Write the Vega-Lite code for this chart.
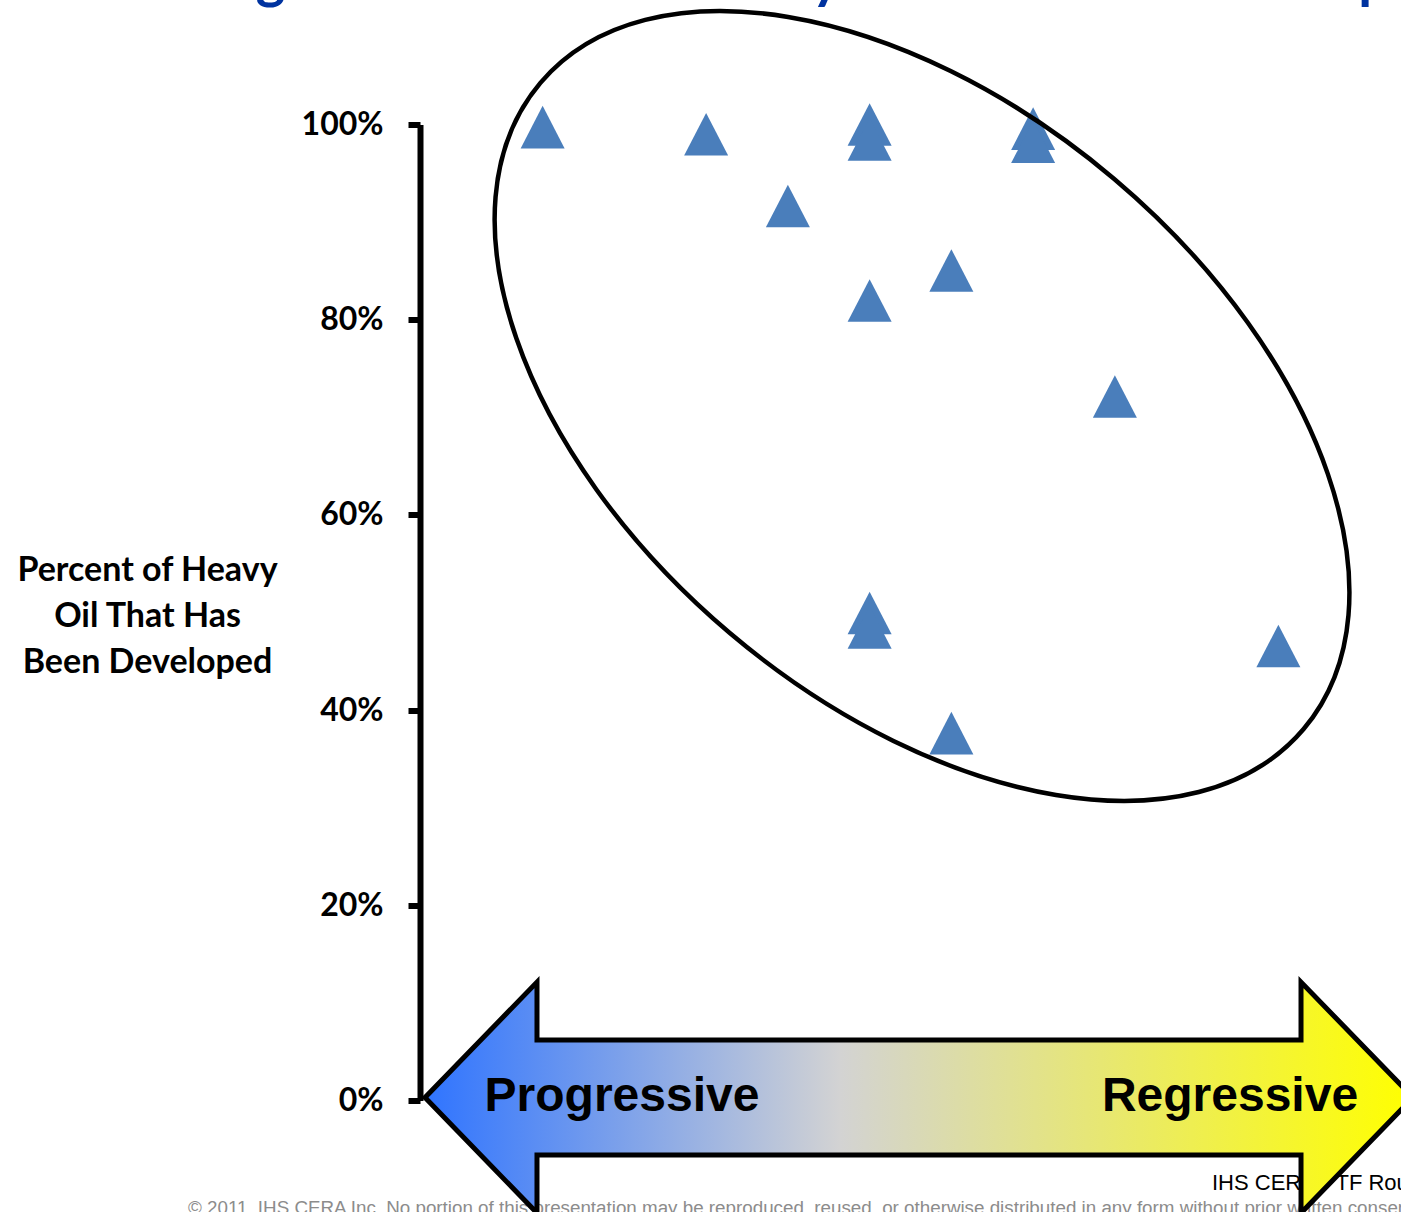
{
  "$schema": "https://vega.github.io/schema/vega-lite/v6.json",
  "width": 981,
  "height": 976,
  "autosize": "none",
  "padding": {"left": 420, "top": 124.5, "right": 0, "bottom": 111.5},
  "background": "white",
  "config": {"view": {"stroke": null}},
  "datasets": {
    "fields": [
      {"regime_position": 1, "share_developed": 0.9974},
      {"regime_position": 3, "share_developed": 0.990},
      {"regime_position": 4, "share_developed": 0.9165},
      {"regime_position": 5, "share_developed": 1.0},
      {"regime_position": 5, "share_developed": 0.9846},
      {"regime_position": 5, "share_developed": 0.8197},
      {"regime_position": 5, "share_developed": 0.4995},
      {"regime_position": 5, "share_developed": 0.4846},
      {"regime_position": 6, "share_developed": 0.8504},
      {"regime_position": 6, "share_developed": 0.3765},
      {"regime_position": 7, "share_developed": 0.9957},
      {"regime_position": 7, "share_developed": 0.9823},
      {"regime_position": 8, "share_developed": 0.7213},
      {"regime_position": 10, "share_developed": 0.4657}
    ]
  },
  "resolve": {"axis": {"x": "independent", "y": "independent"}},
  "layer": [
    {
      "data": {"name": "fields"},
      "mark": {"type": "point", "shape": "M0,-0.97L1,0.97L-1,0.97Z", "size": 1936, "filled": true, "color": "#4a7ebb", "opacity": 1},
      "encoding": {
        "x": {"field": "regime_position", "type": "quantitative", "scale": {"domain": [-0.5, 11.5]}, "axis": null},
        "y": {
          "field": "share_developed",
          "type": "quantitative",
          "scale": {"domain": [0, 1], "nice": false},
          "axis": {
            "title": ["Percent of Heavy", "Oil That Has", "Been Developed"],
            "titleFont": "Lato",
            "titleFontWeight": "bold",
            "titleFontSize": 34,
            "titleColor": "black",
            "titleAngle": 0,
            "titleAlign": "center",
            "titleBaseline": "alphabetic",
            "titleX": -273,
            "titleY": 455.5,
            "titleLineHeight": 46,
            "values": [0, 0.2, 0.4, 0.6, 0.8, 1],
            "format": ".0%",
            "grid": false,
            "domainColor": "black",
            "domainWidth": 6,
            "tickColor": "black",
            "tickWidth": 6,
            "tickSize": 12,
            "labelFont": "Lato",
            "labelFontWeight": "bold",
            "labelFontSize": 32,
            "labelColor": "black",
            "labelPadding": 25
          }
        }
      }
    },
    {
      "data": {"values": [{}]},
      "mark": {"type": "text", "text": "Fiscal Regimes Matter for Heavy Oil Resource Development", "font": "Lato", "fontWeight": "bold", "fontSize": 56, "color": "#0033a0", "align": "left", "baseline": "alphabetic"},
      "encoding": {
        "x": {"datum": -5.17, "type": "quantitative", "scale": {"domain": [-0.5, 11.5]}, "axis": null},
        "y": {"datum": 1.1296, "type": "quantitative", "scale": {"domain": [0, 1], "nice": false}, "axis": null}
      }
    },
    {
      "data": {"values": [{}]},
      "mark": {"type": "text", "text": "IHS CERA PTF Roundtable", "font": "Liberation Sans Narrow, Arial Narrow, Liberation Sans, sans-serif", "fontSize": 22, "color": "black", "align": "left", "baseline": "alphabetic"},
      "encoding": {
        "x": {"datum": 9.188, "type": "quantitative", "scale": {"domain": [-0.5, 11.5]}, "axis": null},
        "y": {"datum": -0.0917, "type": "quantitative", "scale": {"domain": [0, 1], "nice": false}, "axis": null}
      }
    },
    {
      "data": {"values": [{}]},
      "mark": {"type": "text", "text": "© 2011, IHS CERA Inc. No portion of this presentation may be reproduced, reused, or otherwise distributed in any form without prior written consent.", "font": "Liberation Sans Narrow, Arial Narrow, Liberation Sans, sans-serif", "fontSize": 18.8, "color": "#8c8c8c", "align": "left", "baseline": "alphabetic"},
      "encoding": {
        "x": {"datum": -3.338, "type": "quantitative", "scale": {"domain": [-0.5, 11.5]}, "axis": null},
        "y": {"datum": -0.1163, "type": "quantitative", "scale": {"domain": [0, 1], "nice": false}, "axis": null}
      }
    },
    {
      "data": {"values": [{}]},
      "mark": {
        "type": "point",
        "shape": "M-1,0L-0.7733,-0.2338L-0.7733,-0.1164L0.7733,-0.1164L0.7733,-0.2338L1,0L0.7733,0.2338L0.7733,0.1164L-0.7733,0.1164L-0.7733,0.2338Z",
        "size": 976144,
        "filled": true,
        "opacity": 1,
        "fill": {"gradient": "linear", "x1": 0, "y1": 0, "x2": 1, "y2": 0, "stops": [
          {"offset": 0, "color": "#2f74ff"},
          {"offset": 0.42, "color": "#d3d3d3"},
          {"offset": 1, "color": "#ffff00"}
        ]},
        "stroke": "black",
        "strokeWidth": 5,
        "strokeJoin": "miter"
      },
      "encoding": {
        "x": {"datum": 5.604, "type": "quantitative", "scale": {"domain": [-0.5, 11.5]}, "axis": null},
        "y": {"datum": 0.003, "type": "quantitative", "scale": {"domain": [0, 1], "nice": false}, "axis": null}
      }
    },
    {
      "data": {"values": [{}]},
      "mark": {"type": "text", "text": "Progressive", "font": "Liberation Sans", "fontWeight": "bold", "fontSize": 48, "color": "black", "align": "center", "baseline": "alphabetic"},
      "encoding": {
        "x": {"datum": 1.971, "type": "quantitative", "scale": {"domain": [-0.5, 11.5]}, "axis": null},
        "y": {"datum": -0.0108, "type": "quantitative", "scale": {"domain": [0, 1], "nice": false}, "axis": null}
      }
    },
    {
      "data": {"values": [{}]},
      "mark": {"type": "text", "text": "Regressive", "font": "Liberation Sans", "fontWeight": "bold", "fontSize": 48, "color": "black", "align": "center", "baseline": "alphabetic"},
      "encoding": {
        "x": {"datum": 9.408, "type": "quantitative", "scale": {"domain": [-0.5, 11.5]}, "axis": null},
        "y": {"datum": -0.0108, "type": "quantitative", "scale": {"domain": [0, 1], "nice": false}, "axis": null}
      }
    },
    {
      "data": {"values": [{}]},
      "mark": {
        "type": "point",
        "shape": "M0.76323,0.64612C0.5509,0.89693,0.03709,0.81097,-0.38444,0.45412C-0.80597,0.09727,-0.97556,-0.39531,-0.76323,-0.64612C-0.5509,-0.89693,-0.03709,-0.81097,0.38444,-0.45412C0.80597,-0.09727,0.97556,0.39531,0.76323,0.64612Z",
        "size": 1000000,
        "filled": false,
        "opacity": 1,
        "stroke": "black",
        "strokeWidth": 4.5
      },
      "encoding": {
        "x": {"datum": 5.641, "type": "quantitative", "scale": {"domain": [-0.5, 11.5]}, "axis": null},
        "y": {"datum": 0.7116, "type": "quantitative", "scale": {"domain": [0, 1], "nice": false}, "axis": null}
      }
    }
  ]
}
